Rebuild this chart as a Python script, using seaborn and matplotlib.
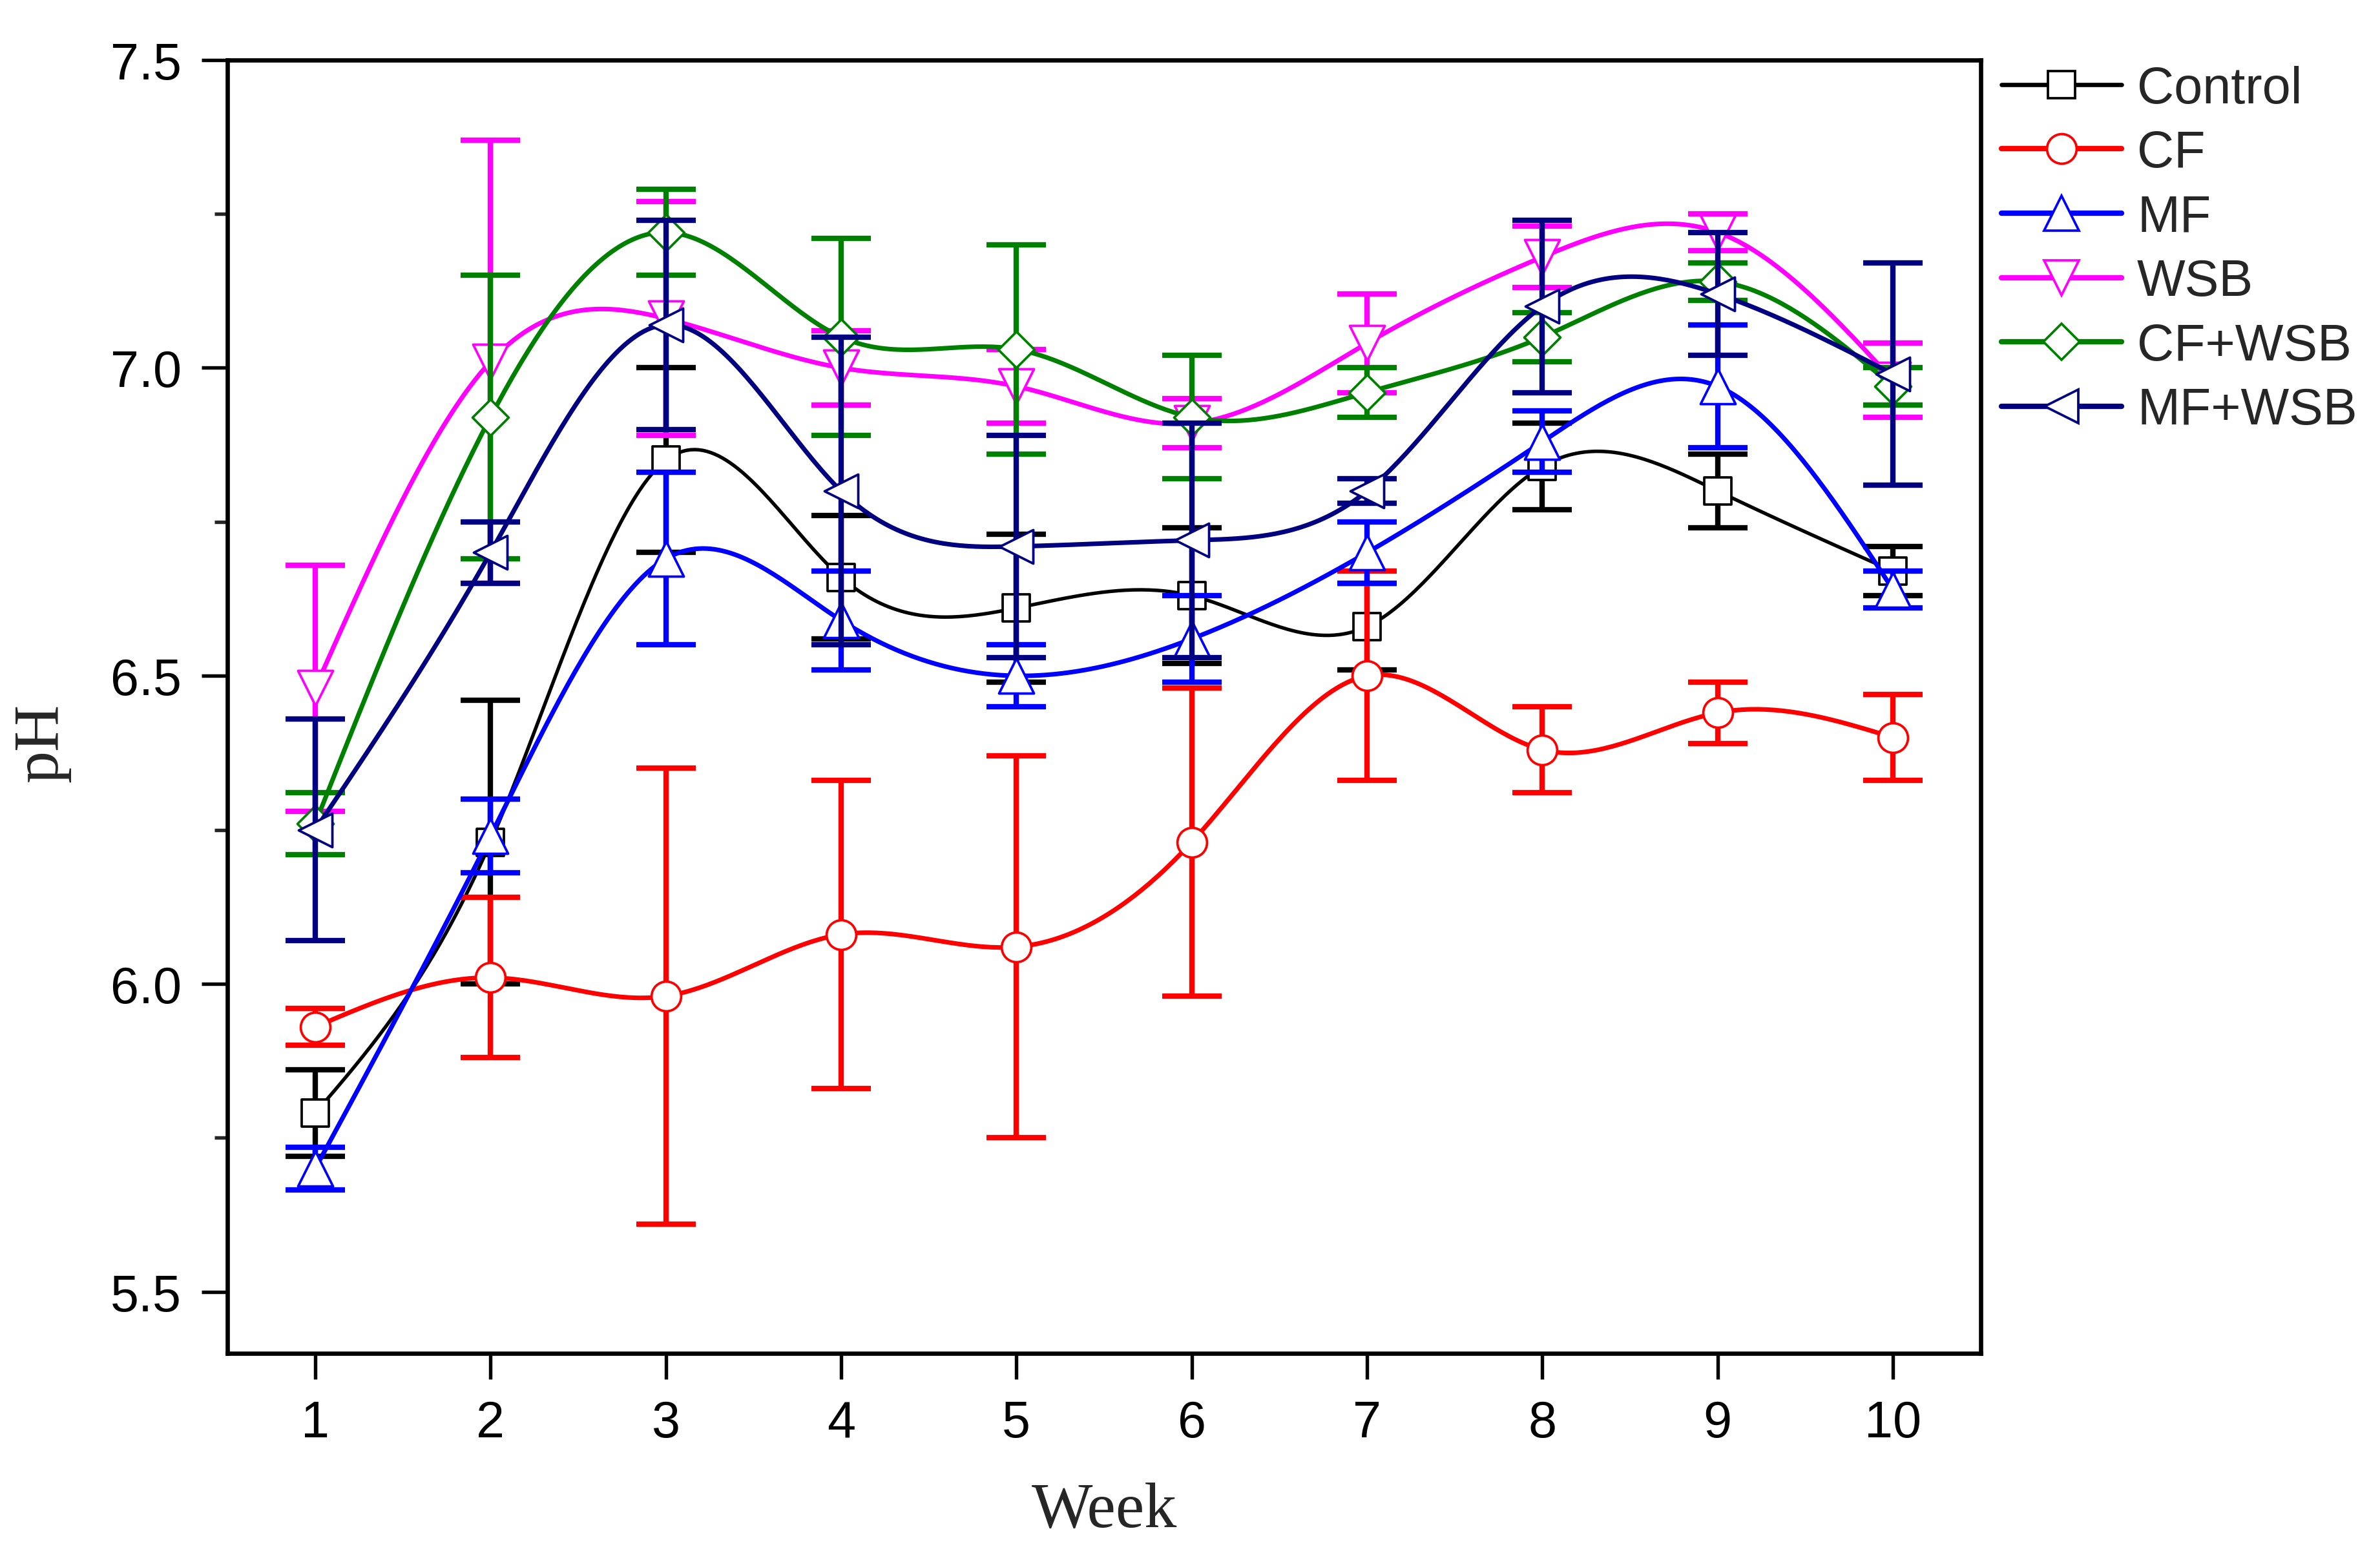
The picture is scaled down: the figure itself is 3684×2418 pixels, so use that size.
import numpy as np
import matplotlib
matplotlib.use("Agg")
import matplotlib.pyplot as plt
from matplotlib.lines import Line2D
from matplotlib.ticker import MultipleLocator
import seaborn as sns

# weekly pH readings (mean and error) per treatment
weeks = [1, 2, 3, 4, 5, 6, 7, 8, 9, 10]
treatments = ["Control", "CF", "MF", "WSB", "CF+WSB", "MF+WSB"]

control = [5.79, 6.23, 6.85, 6.66, 6.61, 6.63, 6.58, 6.84, 6.80, 6.67]
control_err = [0.07, 0.23, 0.15, 0.10, 0.12, 0.11, 0.07, 0.07, 0.06, 0.04]
cf = [5.93, 6.01, 5.98, 6.08, 6.06, 6.23, 6.50, 6.38, 6.44, 6.40]
cf_err = [0.03, 0.13, 0.37, 0.25, 0.31, 0.25, 0.17, 0.07, 0.05, 0.07]
mf = [5.70, 6.24, 6.69, 6.59, 6.50, 6.56, 6.70, 6.88, 6.97, 6.64]
mf_err = [0.035, 0.06, 0.14, 0.08, 0.05, 0.07, 0.05, 0.05, 0.10, 0.03]
wsb = [6.48, 7.01, 7.08, 7.00, 6.97, 6.91, 7.04, 7.18, 7.22, 6.98]
wsb_err = [0.20, 0.36, 0.19, 0.06, 0.06, 0.04, 0.08, 0.05, 0.03, 0.06]
cf_wsb = [6.26, 6.92, 7.22, 7.05, 7.03, 6.92, 6.96, 7.05, 7.14, 6.97]
cf_wsb_err = [0.05, 0.23, 0.07, 0.16, 0.17, 0.10, 0.04, 0.04, 0.03, 0.03]
mf_wsb = [6.25, 6.70, 7.07, 6.80, 6.71, 6.72, 6.80, 7.10, 7.12, 6.99]
mf_wsb_err = [0.18, 0.05, 0.17, 0.25, 0.18, 0.19, 0.02, 0.14, 0.10, 0.18]

means = [control, cf, mf, wsb, cf_wsb, mf_wsb]
errors = [control_err, cf_err, mf_err, wsb_err, cf_wsb_err, mf_wsb_err]

colors = ["#000000", "#FF0000", "#0000FF", "#FF00FF", "#008000", "#000080"]
markers = ["s", "o", "^", "v", "D", "<"]
msizes = [10, 11, 13, 13, 9.5, 12.5]
lwidths = [1.3, 1.7, 1.7, 1.7, 1.7, 1.7]


def natural_spline(x, y, n=400):
    # smooth connecting curve through the points (like Origin's spline connect)
    x = np.asarray(x, float)
    y = np.asarray(y, float)
    k = len(x)
    h = np.diff(x)
    A = np.zeros((k, k))
    r = np.zeros(k)
    A[0, 0] = A[-1, -1] = 1.0
    for i in range(1, k - 1):
        A[i, i - 1] = h[i - 1]
        A[i, i] = 2 * (h[i - 1] + h[i])
        A[i, i + 1] = h[i]
        r[i] = 6 * ((y[i + 1] - y[i]) / h[i] - (y[i] - y[i - 1]) / h[i - 1])
    M = np.linalg.solve(A, r)
    xs = np.linspace(x[0], x[-1], n)
    j = np.clip(np.searchsorted(x, xs) - 1, 0, k - 2)
    hj = h[j]
    a = (x[j + 1] - xs) / hj
    b = (xs - x[j]) / hj
    ys = a * y[j] + b * y[j + 1] + ((a ** 3 - a) * M[j] + (b ** 3 - b) * M[j + 1]) * hj ** 2 / 6
    return xs, ys


sns.set_style("ticks")
plt.rcParams["font.family"] = ["Liberation Sans", "DejaVu Sans"]

fig, ax = plt.subplots(figsize=(12.28, 8.0633), dpi=300)
fig.subplots_adjust(left=0.0956, right=0.8322, bottom=0.1335, top=0.9613)

for i, (vals, errs) in enumerate(zip(means, errors)):
    c = colors[i]
    z = 2 + 3 * i
    eb = ax.errorbar(weeks, vals, yerr=errs, fmt="none", ecolor=c, elinewidth=2.0,
                     capsize=11, capthick=2.0, zorder=z)
    for cap in eb[1]:
        cap.set_solid_capstyle("round")
    xs, ys = natural_spline(weeks, vals)
    sns.lineplot(x=xs, y=ys, color=c, linewidth=lwidths[i], ax=ax,
                 zorder=z + 1, legend=False)
    sns.scatterplot(x=weeks, y=vals, marker=markers[i], s=msizes[i] ** 2,
                    color="white", edgecolor=c, linewidth=0.9, ax=ax,
                    zorder=z + 2, legend=False)

ax.set_xlim(0.5, 10.5)
ax.set_ylim(5.4, 7.5)
ax.set_xticks(weeks)
ax.yaxis.set_major_locator(MultipleLocator(0.5))
ax.yaxis.set_minor_locator(MultipleLocator(0.25))
ax.set_yticklabels([f"{v:.1f}" for v in ax.get_yticks()])

for s in ax.spines.values():
    s.set_visible(True)
    s.set_linewidth(1.6)
    s.set_color("black")

ax.tick_params(axis="both", which="major", direction="out", length=9.6, width=1.3,
               labelsize=19, pad=7.5, colors="black")
ax.tick_params(axis="y", which="minor", direction="out", length=4.8, width=1.3)
ax.tick_params(axis="x", which="minor", length=0)
ax.tick_params(top=False, right=False)

ax.set_xlabel("Week", family="Liberation Serif", fontsize=24, va="center")
ax.set_ylabel("pH", family="Liberation Serif", fontsize=24, va="center")
ax.xaxis.set_label_coords(0.5, -0.122)
ax.yaxis.set_label_coords(-0.106, 0.4724)

handles = [
    Line2D([0], [0], color=colors[i], lw=lwidths[i] + 0.3, marker=markers[i],
           markersize=msizes[i], markerfacecolor="white",
           markeredgecolor=colors[i], markeredgewidth=0.9)
    for i in range(len(treatments))
]
fig.legend(handles, treatments, loc="upper left", bbox_to_anchor=(0.841, 0.958),
           frameon=False, fontsize=19, handlelength=2.35, handletextpad=0.3,
           labelspacing=0.31, borderpad=0, borderaxespad=0)

fig.savefig("out.png", dpi=300, facecolor="white")
